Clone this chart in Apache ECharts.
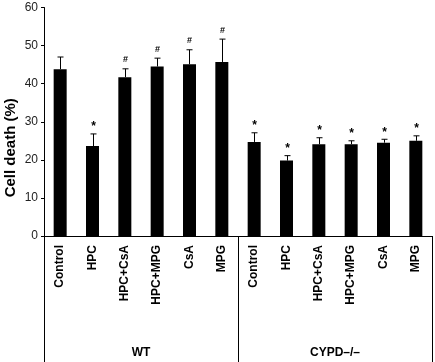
<!DOCTYPE html>
<html>
<head>
<meta charset="utf-8">
<script src="https://cdn.jsdelivr.net/npm/echarts@6/dist/echarts.min.js"></script>
<style>
  html, body { margin: 0; padding: 0; background: #fff; }
  #chart { width: 435px; height: 362px; }
</style>
</head>
<body>
<div id="chart"></div>
<script>
// treatments, repeated for each genotype
const categories = ['Control', 'HPC', 'HPC+CsA', 'HPC+MPG', 'CsA', 'MPG',
    'Control', 'HPC', 'HPC+CsA', 'HPC+MPG', 'CsA', 'MPG'];
const groups = ['WT', 'CYPD–/–'];
// mean cell death (%)
const meanValues = [43.8, 23.6, 41.7, 44.5, 45.1, 45.7,
    24.7, 19.8, 24.1, 24.1, 24.5, 25.0];
// upper error bar (SD)
const errValues = [3.2, 3.2, 2.2, 2.2, 3.8, 6.0,
    2.4, 1.3, 1.7, 0.9, 0.9, 1.3];
// significance marks
const marks = ['', '*', '#', '#', '#', '#', '*', '*', '*', '*', '*', '*'];
const yTicks = [0, 10, 20, 30, 40, 50, 60];

const FONT = '"Liberation Sans", Arial, sans-serif';

var chartDom = document.getElementById('chart');
var myChart = echarts.init(chartDom, null, { renderer: 'canvas' });

var errData = meanValues.map(function (v, i) {
    return [i, v, v + errValues[i], marks[i]];
});

var option = {
    animation: false,
    textStyle: { fontFamily: FONT },
    grid: { left: 44, right: 3, top: 7.5, bottom: 126, containLabel: false, outerBoundsMode: 'none' },
    xAxis: [
        {
            type: 'category',
            data: categories,
            axisLine: { lineStyle: { color: '#000', width: 1 } },
            axisTick: { show: false },
            axisLabel: {
                interval: 0, rotate: 90, margin: 9,
                fontSize: 12, fontWeight: 'bold', color: '#000', fontFamily: FONT
            }
        },
        {
            type: 'category',
            data: groups,
            position: 'bottom',
            axisLine: { show: false },
            axisTick: { show: true, length: 127, lineStyle: { color: '#000', width: 1 } },
            axisLabel: {
                margin: 111, fontSize: 12, fontWeight: 'bold', color: '#000', fontFamily: FONT
            }
        }
    ],
    yAxis: {
        type: 'value',
        min: yTicks[0],
        max: yTicks[yTicks.length - 1],
        interval: 10,
        name: 'Cell death (%)',
        nameLocation: 'middle',
        nameGap: 26,
        nameMoveOverlap: false,
        nameTextStyle: {
            fontSize: 15, fontWeight: 'bold', color: '#000', fontFamily: FONT,
            padding: [0, 52, 0, 0]
        },
        axisLine: { show: true, lineStyle: { color: '#000', width: 1 } },
        axisTick: { show: true, length: 3, lineStyle: { color: '#000' } },
        splitLine: { show: false },
        axisLabel: { fontSize: 12, color: '#222', margin: 6, fontFamily: FONT }
    },
    series: [
        {
            type: 'bar',
            data: meanValues,
            barWidth: 13,
            itemStyle: { color: '#000' },
            z: 2
        },
        {
            type: 'custom',
            data: errData,
            z: 3,
            renderItem: function (params, api) {
                var base = api.coord([api.value(0), api.value(1)]);
                var top = api.coord([api.value(0), api.value(2)]);
                var x = Math.round(base[0]) + 0.5;
                var cap = 3;
                var mark = marks[params.dataIndex];
                var children = [
                    {
                        type: 'line',
                        shape: { x1: x, y1: base[1], x2: x, y2: top[1] },
                        style: { stroke: '#000', lineWidth: 1 }
                    },
                    {
                        type: 'line',
                        shape: { x1: x - cap, y1: top[1], x2: x + cap, y2: top[1] },
                        style: { stroke: '#000', lineWidth: 1 }
                    }
                ];
                if (mark) {
                    children.push({
                        type: 'text',
                        style: {
                            text: mark,
                            x: x,
                            y: top[1] - (mark === '*' ? 7 : 9),
                            align: 'center',
                            verticalAlign: 'middle',
                            fill: '#000',
                            font: (mark === '*' ? 'bold 12px ' : 'bold 9px ') + FONT
                        }
                    });
                }
                return { type: 'group', children: children };
            }
        }
    ]
};
myChart.setOption(option);

window.onresize = function () {
    myChart.resize();
};
</script>
</body>
</html>
